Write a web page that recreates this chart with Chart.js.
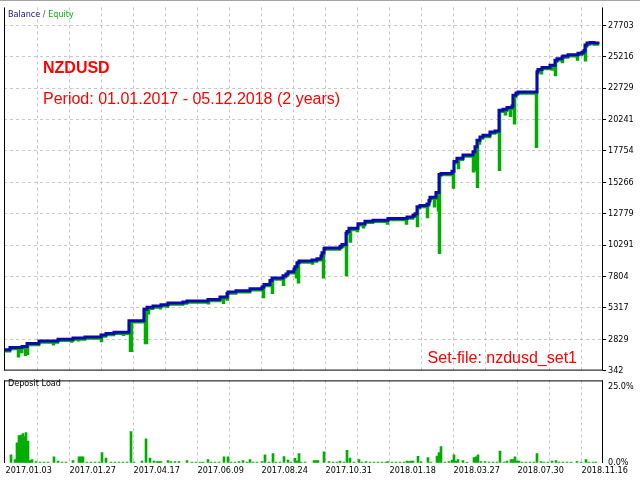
<!DOCTYPE html>
<html>
<head>
<meta charset="utf-8">
<script src="https://cdn.jsdelivr.net/npm/chart.js@4.4.1/dist/chart.umd.min.js"></script>
<style>
  html, body { margin: 0; padding: 0; background: #fff; }
  #wrap { position: relative; width: 640px; height: 480px; overflow: hidden; background: #fff; }
  #equity_chart { position: absolute; left: 0; top: 0; }
  #load_chart { position: absolute; left: 0; top: 373px; }
</style>
</head>
<body>
<div id="wrap">
  <canvas id="equity_chart" width="640" height="378"></canvas>
  <canvas id="load_chart" width="640" height="107"></canvas>
</div>
<script>
// x axis is the trade number, dates only label some of them
const x_labels = ["2017.01.03", "2017.01.27", "2017.04.17", "2017.06.09", "2017.08.24",
  "2017.10.31", "2018.01.18", "2018.03.27", "2018.07.30", "2018.11.16"];
const x_grid = [1.5, 33.5, 65.5, 97.5, 129.5, 161.5, 193.5, 225.5, 257.5, 289.5,
  321.5, 353.5, 385.5, 417.5, 449.5, 481.5, 513.5, 545.5, 577.5];
const y_ticks = ["342", "2829", "5317", "7804", "10291", "12779", "15266", "17754",
  "20241", "22729", "25216", "27703"];
const load_ticks = ["0.0%", "25.0%"];
const load_tick_values = [0, 25];

const balance_trades = [1, 6, 18, 23, 35, 54, 69, 81, 97, 102, 110, 125, 140, 143, 149, 157,
  164, 179, 183, 204, 216, 223, 224, 232, 246, 258, 260, 266, 268, 279, 282, 284, 290, 291,
  293, 295, 308, 313, 317, 318, 320, 321, 336, 338, 342, 343, 345, 354, 361, 369, 384, 403,
  409, 411, 413, 416, 423, 425, 426, 432, 435, 437, 448, 450, 453, 459, 469, 471, 473, 476,
  479, 486, 491, 495, 499, 503, 508, 509, 512, 514, 533, 534, 538, 546, 551, 553, 558, 559,
  564, 574, 578, 580, 581, 583, 586, 590, 594];
const balance_values = [2000, 2180, 2258, 2490, 2692, 2824, 2925, 3002, 3157, 3289, 3390,
  4298, 5205, 5360, 5461, 5562, 5694, 5771, 5849, 5981, 6182, 6446, 6570, 6663, 6834, 6958,
  7167, 7478, 7687, 7865, 7997, 8176, 8385, 8563, 8897, 9029, 9106, 9207, 9417, 9672, 10014,
  10060, 10192, 10324, 11224, 11356, 11612, 11976, 12185, 12263, 12387, 12519, 12651, 12775,
  13333, 13426, 13550, 13814, 14070, 14458, 15877, 15955, 16141, 16917, 17173, 17429, 17692,
  18080, 18592, 18856, 18980, 19243, 19321, 20973, 21051, 21182, 21306, 22160, 22346, 22423,
  24021, 24207, 24362, 24541, 24929, 25061, 25184, 25262, 25371, 25495, 25572, 25704, 26146,
  26301, 26348, 26301, 26208];

const equity_trades = [1, 6, 14, 15, 17, 18, 21, 22, 23, 24, 35, 49, 50, 54, 67, 68, 69, 74,
  75, 81, 97, 98, 102, 110, 119, 120, 125, 126, 128, 140, 141, 143, 144, 145, 149, 156, 157,
  163, 164, 179, 183, 204, 205, 216, 219, 220, 223, 224, 232, 246, 258, 259, 260, 266, 268,
  269, 279, 280, 282, 284, 290, 291, 292, 293, 294, 295, 308, 309, 313, 317, 318, 319, 320,
  321, 336, 338, 342, 343, 345, 346, 347, 353, 354, 359, 360, 361, 369, 383, 384, 402, 403,
  409, 411, 413, 414, 416, 423, 424, 425, 426, 430, 431, 432, 434, 435, 436, 437, 448, 449,
  450, 453, 454, 455, 459, 469, 470, 471, 472, 473, 474, 475, 476, 479, 486, 491, 495, 496,
  499, 501, 502, 503, 506, 507, 508, 509, 510, 511, 512, 514, 532, 533, 534, 537, 538, 546,
  548, 549, 551, 552, 553, 558, 559, 564, 573, 574, 578, 580, 581, 582, 583, 586, 590, 594];
const equity_values = [1880, 2060, 1482, 2000, 1816, 2138, 1606, 2138, 1684, 2370, 2572,
  2436, 2572, 2704, 2646, 2704, 2805, 2746, 2805, 2882, 2692, 3037, 3169, 3270, 3188, 3270,
  4178, 1916, 4178, 5085, 2537, 5240, 4895, 5240, 5341, 5283, 5442, 5407, 5574, 5651, 5729,
  5670, 5861, 6062, 5717, 6062, 5981, 6450, 6543, 6714, 6838, 6182, 7047, 7358, 6508, 7567,
  7144, 7745, 7877, 8056, 8265, 8443, 7733, 8777, 7346, 8909, 8835, 8986, 9087, 9297, 9552,
  7733, 9894, 9940, 10072, 10204, 7920, 11236, 11492, 10580, 11492, 11410, 11856, 11700,
  11856, 12065, 12143, 12000, 12267, 12000, 12399, 12531, 12655, 11798, 13213, 13306, 12519,
  13430, 13694, 13950, 13372, 13950, 14338, 13039, 9672, 15757, 15835, 16021, 14846, 16797,
  17053, 16397, 17053, 17309, 16141, 17572, 16265, 17960, 14900, 18472, 18336, 18736, 18860,
  19123, 19201, 16265, 20853, 20931, 20663, 20931, 21062, 20531, 21062, 21186, 22040, 19942,
  22040, 22226, 22303, 18080, 23901, 24087, 23897, 24242, 24421, 24200, 24421, 23765, 24809,
  24941, 24797, 25142, 25251, 24983, 25375, 25452, 25584, 24929, 26026, 26181, 26228, 26181,
  26088];

const load_trades = [7, 11, 13, 15, 17, 19, 21, 22, 24, 26, 28, 32, 36, 40, 44, 50, 54, 58,
  62, 69, 75, 77, 79, 83, 87, 91, 95, 98, 102, 107, 111, 115, 119, 123, 127, 130, 138, 142,
  146, 150, 153, 155, 157, 164, 167, 171, 175, 183, 188, 192, 196, 199, 204, 207, 211, 215,
  220, 224, 227, 231, 235, 239, 243, 246, 249, 253, 258, 261, 265, 269, 272, 276, 280, 284,
  287, 291, 293, 295, 297, 301, 310, 312, 314, 320, 325, 329, 333, 336, 340, 343, 346, 350,
  355, 358, 362, 366, 370, 374, 378, 382, 384, 388, 392, 396, 400, 403, 405, 407, 409, 414,
  417, 424, 427, 433, 435, 437, 441, 445, 448, 450, 452, 454, 459, 463, 470, 472, 474, 477,
  481, 485, 489, 493, 496, 500, 503, 507, 509, 511, 513, 515, 518, 522, 526, 530, 533, 537,
  540, 544, 548, 552, 555, 559, 563, 567, 573, 577, 582, 585, 589, 592];
const load_values = [2.65, 1.1, 6.6, 9.0, 9.2, 9.7, 8.7, 10.0, 7.2, 0.8, 1.1, 0.5, 0.3, 0.3,
  0.3, 2.0, 0.6, 0.3, 0.3, 0.8, 2.0, 2.0, 2.0, 0.3, 0.3, 0.3, 0.3, 3.4, 1.6, 0.3, 0.3, 0.3,
  0.3, 0.3, 10.3, 0.3, 0.6, 7.9, 1.6, 0.6, 0.5, 0.5, 0.5, 0.8, 0.5, 0.5, 0.5, 0.8, 0.3, 0.3,
  0.3, 0.3, 1.1, 0.3, 0.3, 0.3, 2.0, 2.0, 0.3, 0.3, 0.5, 0.8, 0.3, 1.1, 0.3, 0.3, 0.5, 2.65,
  0.3, 3.1, 0.3, 0.3, 2.1, 1.0, 0.3, 1.5, 0.6, 3.1, 0.3, 0.3, 0.8, 0.8, 0.8, 3.7, 0.5, 0.3,
  0.3, 0.6, 0.3, 4.2, 1.6, 0.3, 1.1, 0.3, 0.5, 0.3, 0.3, 0.3, 0.3, 0.3, 0.5, 0.3, 0.3, 0.3,
  0.3, 0.6, 0.5, 0.6, 0.6, 2.2, 0.5, 1.8, 0.3, 2.3, 3.4, 5.4, 0.3, 0.5, 1.0, 2.65, 0.6, 1.1,
  0.8, 0.3, 1.8, 2.0, 2.65, 0.5, 0.5, 0.3, 0.3, 0.3, 3.9, 0.3, 0.6, 1.1, 1.1, 2.0, 0.6, 0.6,
  0.3, 0.3, 0.3, 0.3, 3.1, 0.5, 0.3, 0.3, 0.6, 0.8, 0.3, 0.3, 0.3, 0.3, 0.5, 0.3, 1.1, 0.3,
  0.3, 0.3];

// grid lines the deposit panel leaves out
const load_hidden_grid = [0, 3, 5, 8, 13, 15];

const tick_font = { family: "'DejaVu Sans Condensed', 'Liberation Sans', sans-serif", size: 9 };
const grid_grey = "#c8c8c8";
const blue = "#0a0ab0";
const green = "#00ad00";

const to_points = (xs, ys) => xs.map((x, i) => ({ x: x, y: ys[i] }));

const frame_plugin = (with_top) => ({
  id: "frame",
  afterDraw(chart) {
    const { ctx, chartArea: a } = chart;
    ctx.save();
    ctx.strokeStyle = "#000";
    ctx.lineWidth = 1;
    ctx.beginPath();
    ctx.moveTo(a.left + 0.5, a.bottom);
    ctx.lineTo(a.left + 0.5, a.top);
    ctx.moveTo(a.right - 0.5, a.top);
    ctx.lineTo(a.right - 0.5, a.bottom);
    if (with_top) {
      ctx.moveTo(a.left, a.top + 0.5);
      ctx.lineTo(a.right, a.top + 0.5);
    } else {
      ctx.moveTo(a.left, a.bottom - 0.5);
      ctx.lineTo(a.right, a.bottom - 0.5);
    }
    ctx.stroke();
    ctx.restore();
  },
});

const equity_text = {
  id: "equity_text",
  afterDraw(chart) {
    const ctx = chart.ctx;
    ctx.save();
    // grey strip above the panel
    ctx.fillStyle = "#a4a4a4";
    ctx.fillRect(0, 0, 640, 1);
    ctx.textBaseline = "alphabetic";
    ctx.font = "9px 'DejaVu Sans Condensed', 'Liberation Sans', sans-serif";
    let x = 8;
    ctx.fillStyle = "#1010a0";
    ctx.fillText("Balance", x, 16.5);
    x += ctx.measureText("Balance").width;
    ctx.fillStyle = "#404080";
    ctx.fillText(" / ", x, 16.5);
    x += ctx.measureText(" / ").width;
    ctx.fillStyle = "#10b010";
    ctx.fillText("Equity", x, 16.5);

    ctx.fillStyle = "#ff0000";
    ctx.font = "bold 16px 'Liberation Sans', Arial, sans-serif";
    ctx.fillText("NZDUSD", 43, 72.5);
    ctx.font = "16px 'Liberation Sans', Arial, sans-serif";
    ctx.fillText("Period: 01.01.2017 - 05.12.2018 (2 years)", 43, 103.5);
    ctx.textAlign = "right";
    ctx.fillText("Set-file: nzdusd_set1", 577, 363);
    ctx.restore();
  },
};

const load_text = {
  id: "load_text",
  afterDraw(chart) {
    const ctx = chart.ctx;
    ctx.save();
    ctx.fillStyle = "#000";
    ctx.font = "9px 'DejaVu Sans Condensed', 'Liberation Sans', sans-serif";
    ctx.fillText("Deposit Load", 8, 13);
    ctx.restore();
  },
};

const x_scale = (show_labels, hidden) => ({
  type: "linear",
  min: 0,
  max: 599,
  offset: false,
  afterBuildTicks: (scale) => {
    scale.ticks = x_grid.map((v) => ({ value: v }));
  },
  afterFit: (scale) => {
    scale.height = show_labels ? 17 : 0;
  },
  ticks: {
    display: show_labels,
    autoSkip: false,
    maxRotation: 0,
    minRotation: 0,
    align: "start",
    padding: 2,
    color: "#000",
    font: tick_font,
    callback: (value, index) => (index % 2 === 0 ? x_labels[index / 2] : ""),
  },
  grid: {
    offset: false,
    drawTicks: false,
    color: (c) => (hidden.includes(c.index) ? "rgba(0,0,0,0)" : grid_grey),
  },
  border: { display: false, dash: [3, 3] },
});

const equity_chart = new Chart(document.getElementById("equity_chart"), {
  type: "line",
  data: {
    datasets: [
      {
        label: "Balance",
        data: to_points(balance_trades, balance_values),
        borderColor: blue,
        borderWidth: 3,
        stepped: "before",
        pointRadius: 0,
        fill: false,
      },
      {
        label: "Equity",
        data: to_points(equity_trades, equity_values),
        borderColor: green,
        borderWidth: 2.5,
        stepped: "before",
        pointRadius: 0,
        fill: false,
      },
    ],
  },
  options: {
    responsive: false,
    animation: false,
    devicePixelRatio: 1,
    events: [],
    layout: { padding: { left: 4, top: 1, right: 0, bottom: 6 } },
    plugins: { legend: { display: false }, tooltip: { enabled: false } },
    scales: {
      x: x_scale(false, [0]),
      y: {
        position: "right",
        min: 342,
        max: 29120,
        bounds: "data",
        afterBuildTicks: (scale) => {
          scale.ticks = y_ticks.map((v) => ({ value: Number(v) }));
        },
        afterFit: (scale) => {
          scale.width = 37;
        },
        ticks: {
          padding: 2,
          color: "#000",
          font: tick_font,
          callback: (value, index) => y_ticks[index],
        },
        grid: {
          color: (c) => (c.index === 0 ? "rgba(0,0,0,0)" : grid_grey),
          tickColor: "#000",
          tickLength: 3,
        },
        border: { display: false, dash: [3, 3] },
      },
    },
  },
  plugins: [frame_plugin(false), equity_text],
});

const load_chart = new Chart(document.getElementById("load_chart"), {
  type: "bar",
  data: {
    datasets: [
      {
        label: "Deposit Load",
        data: to_points(load_trades, load_values),
        backgroundColor: green,
        borderWidth: 0,
        barThickness: 2,
      },
    ],
  },
  options: {
    responsive: false,
    animation: false,
    devicePixelRatio: 1,
    events: [],
    layout: { padding: { left: 4, top: 1, right: 0, bottom: 0 } },
    plugins: { legend: { display: false }, tooltip: { enabled: false } },
    scales: {
      x: x_scale(true, load_hidden_grid),
      y: {
        position: "right",
        min: 0,
        max: 27.13,
        bounds: "data",
        afterBuildTicks: (scale) => {
          scale.ticks = load_tick_values.map((v) => ({ value: v }));
        },
        afterFit: (scale) => {
          scale.width = 37;
        },
        ticks: {
          padding: 2,
          color: "#000",
          font: tick_font,
          callback: (value, index) => load_ticks[index],
        },
        grid: {
          color: "rgba(0,0,0,0)",
          tickColor: "rgba(0,0,0,0)",
          tickLength: 3,
        },
        border: { display: false },
      },
    },
  },
  plugins: [frame_plugin(true), load_text],
});
</script>
</body>
</html>
